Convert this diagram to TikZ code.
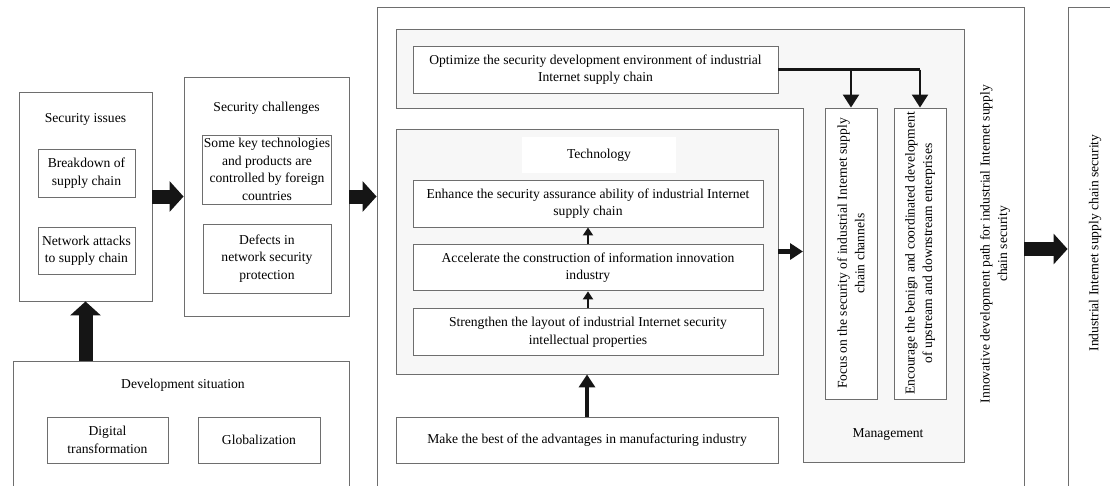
\documentclass[tikz,border=0pt]{standalone}
\usepackage{fontspec}
\setmainfont{Liberation Serif}
\usepackage{tikz}
\definecolor{BoxLine}{HTML}{6E6E6E}
\definecolor{PanelBg}{HTML}{F7F7F7}
\definecolor{ArrowInk}{HTML}{151515}
\usetikzlibrary{arrows.meta}
\usetikzlibrary{calc}
\usetikzlibrary{positioning}

\begin{document}
\begin{tikzpicture}[x=1pt, y=-1pt,
    font=\fontsize{13.6}{17.5}\selectfont,
    node distance=17pt,
    box/.style={shape=rectangle, draw=BoxLine, line width=0.9pt, fill=white,
      align=center, inner sep=1pt},
    panel/.style={draw=BoxLine, line width=0.9pt, fill=PanelBg},
    bigarrow/.style={draw=ArrowInk, line width=14pt,
      -{Triangle[width=30pt, length=14pt]}, shorten >=0pt},
    midarrow/.style={draw=ArrowInk, line width=4.5pt,
      -{Triangle[width=16pt, length=13pt]}},
    smallarrow/.style={draw=ArrowInk, line width=2.5pt,
      -{Triangle[width=10pt, length=8pt]}},
    feedline/.style={draw=ArrowInk, line width=2.2pt}]

    \useasboundingbox (0,0) rectangle (1110,485);
    \clip (0,0) rectangle (1110,485);

    % left column
    \node[name=issues, box, minimum width=133pt, minimum height=209pt]
      at (85.5,196.5) {};
    \node[name=issuestitle] at (85.5,119) {Security issues};
    \node[name=breakdown, box, minimum width=97pt, minimum height=48pt]
      at (86.5,173) {Breakdown of\\supply chain};
    \node[name=attacks, box, minimum width=97pt, minimum height=47pt]
      at (86.5,250.5) {Network attacks\\to supply chain};

    \node[name=challenges, box, minimum width=165pt, minimum height=239pt]
      at (266.5,196.5) {};
    \node[name=challengestitle] at (266.5,108) {Security challenges};
    \node[name=keytech, box, minimum width=128pt, minimum height=69pt]
      at (267,169.5) {Some key technologies\\and products are\\controlled by foreign\\countries};
    \node[name=defects, box, minimum width=128pt, minimum height=69pt]
      at (267,258.5) {Defects in\\network security\\protection};

    \node[name=devsit, box, minimum width=336pt, minimum height=159pt]
      at (181,440.5) {};
    \node[name=devtitle] at (183,385) {Development situation};
    \node[name=digital, box, minimum width=121pt, minimum height=46pt]
      at (107.5,440) {Digital\\transformation};
    \node[name=global, box, minimum width=122pt, minimum height=46pt]
      at (259,440) {Globalization};

    % development path
    \node[name=main, box, minimum width=647pt, minimum height=513pt]
      at (700.5,263.5) {};
    \draw[panel] (396,29) -- (964,29) -- (964,462) -- (803,462)
      -- (803,108) -- (396,108) -- cycle;
    \coordinate (mgmtW) at (803,251.5);

    \node[name=optimize, box, minimum width=365pt, minimum height=47pt]
      at (595.5,69.5) {Optimize the security development environment of industrial\\Internet supply chain};

    \node[name=tech, box, fill=PanelBg, minimum width=382pt, minimum height=245pt]
      at (587,251.5) {};
    \node[name=techtitle, fill=white, minimum width=154pt, minimum height=36pt]
      at (599,155) {Technology};
    \node[name=enhance, box, minimum width=350pt, minimum height=47pt]
      at (588,203.5) {Enhance the security assurance ability of industrial Internet\\supply chain};
    \node[name=accel, box, minimum width=350pt, minimum height=46pt,
      below=of enhance] {Accelerate the construction of information innovation\\industry};
    \node[name=strength, box, minimum width=350pt, minimum height=47pt,
      below=of accel] {Strengthen the layout of industrial Internet security\\intellectual properties};
    \node[name=makebest, box, minimum width=382pt, minimum height=46pt]
      at (587,440) {Make the best of the advantages in manufacturing industry};

    \node[name=focus, box, rotate=90, minimum width=291pt, minimum height=52pt]
      at (851,253.5) {Focus on the security of industrial Internet supply\\chain channels};
    \node[name=encourage, box, rotate=90, minimum width=291pt, minimum height=52pt]
      at (920,253.5) {Encourage the benign and coordinated development\\of upstream and downstream enterprises};
    \node[name=mgmttitle] at (888,435) {Management};

    \node[name=innov, rotate=90, align=center] at (995,244)
      {Innovative development path for industrial Internet supply\\chain security};

    % result
    \node[name=final, box, minimum width=62pt, minimum height=513pt]
      at (1099,263.5) {};
    \node[name=finaltext, rotate=90] at (1095,243)
      {Industrial Internet supply chain security};

    % connectors
    \path[bigarrow] (issues.east) -- (challenges.west);
    \path[bigarrow] (challenges.east) -- (challenges.east -| main.west);
    \path[bigarrow] (issues.south |- devsit.north) -- (issues.south);
    \path[bigarrow] (innov -| main.east) ++(0,5) -- ($(innov -| final.west)+(0,5)$);

    \path[smallarrow] (strength.north) -- (accel.south);
    \path[smallarrow] (accel.north) -- (enhance.south);
    \path[midarrow] (makebest.north) -- (tech.south);
    \path[midarrow] (tech.east) -- (mgmtW);

    \coordinate (split) at (encourage.east |- optimize.east);
    \path[feedline] (optimize.east) -- (split);
    \path[midarrow, line width=2.2pt] (focus.east |- optimize.east) -- (focus.east);
    \path[midarrow, line width=2.2pt] (split) -- (encourage.east);
  \end{tikzpicture}
\end{document}
